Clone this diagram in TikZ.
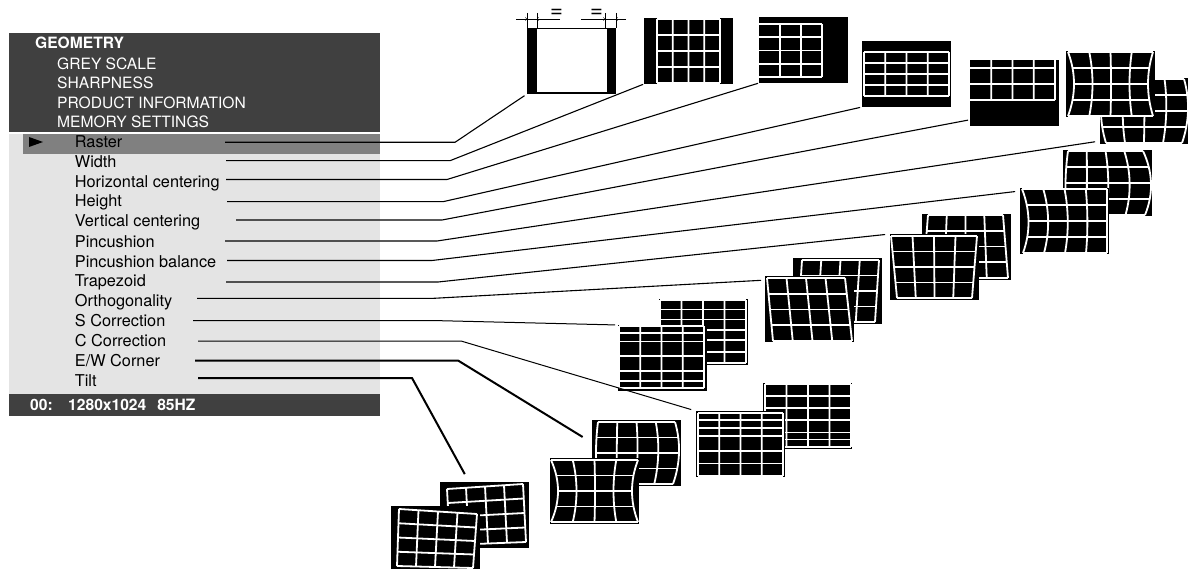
\documentclass[tikz,border=0pt]{standalone}
\usepackage{fontspec}
\setmainfont{TeX Gyre Heros}
\usetikzlibrary{calc}
\definecolor{paneldark}{HTML}{404040}
\definecolor{panellight}{HTML}{E4E4E4}
\definecolor{panelmark}{HTML}{808080}
\tikzset{
    screen/.style={fill=black, inner sep=0, outer sep=0, anchor=north west, minimum width=89, minimum height=66},
    gridline/.style={white, line width=1.8},
    menuitem/.style={anchor=base west, inner sep=0, font=\fontsize{16.3}{18}\selectfont},
    menuhead/.style={anchor=base west, inner sep=0, white, font=\fontsize{15.6}{18}\selectfont},
    equalmark/.style={inner sep=0, font=\fontsize{22}{22}\selectfont},
    link/.style={black, line join=miter}
}
\def\fourths{0,.25,.5,.75,1}
% screen, four corners of the raster, left and right bow, rows, columns
\newcommand{\warpgrid}[9]{
    \begin{scope}[shift={(#1.north west)}]
        \coordinate (TL) at (#2);
        \coordinate (TR) at (#3);
        \coordinate (BR) at (#4);
        \coordinate (BL) at (#5);
        \foreach \rv in #8 {
            \pgfmathsetmacro{\lbow}{#6*4*\rv*(1-\rv)}
            \pgfmathsetmacro{\rbow}{#7*4*\rv*(1-\rv)}
            \draw[gridline] ($(TL)!\rv!(BL)+(\lbow,0)$) -- ($(TR)!\rv!(BR)+(\rbow,0)$);
        }
        \foreach \cu in #9 {
            \pgfmathsetmacro{\cbow}{4/3*((1-\cu)*#6+\cu*#7)}
            \coordinate (A) at ($(TL)!\cu!(TR)$);
            \coordinate (B) at ($(BL)!\cu!(BR)$);
            \draw[gridline] (A) .. controls ($(A)!.33!(B)+(\cbow,0)$) and ($(A)!.67!(B)+(\cbow,0)$) .. (B);
        }
    \end{scope}
}
\begin{document}
\begin{tikzpicture}[x=1pt, y=-1pt]
    \useasboundingbox (0,0) rectangle (1188,569);

    % Menu panels
    \fill[paneldark] (9,33) rectangle (380,132.5);
    \fill[panellight] (9,134) rectangle (380,394);
    \fill[panelmark] (23,134) rectangle (380,154);
    \fill[paneldark] (9,394) rectangle (380,416);
    \fill[black] (29,137) -- (43,142) -- (29,147) -- cycle;

    % Menu texts
    \node[menuhead] (geometry) at (35,49) {\textbf{GEOMETRY}};
    \foreach \key/\y/\txt in {greyscale/69.5/GREY SCALE, sharpness/88.7/SHARPNESS, product/108.2/PRODUCT INFORMATION, memory/128/MEMORY SETTINGS} {
        \node[menuhead] (\key) at (57,\y) {\txt};
    }
    \foreach \key/\y/\txt in {raster/148/Raster, width/167.5/Width, hcenter/187.3/Horizontal centering, height/207/Height,
        vcenter/226.7/Vertical centering, pincushion/247.3/Pincushion, balance/267.3/Pincushion balance, trapezoid/286.8/Trapezoid,
        orthogonality/306.7/Orthogonality, scorr/326.3/S Correction, ccorr/346.3/C Correction, ewcorner/366.3/{E/W Corner}, tilt/386.3/Tilt} {
        \node[menuitem, black] (\key) at (74.7,\y) {\txt};
    }
    \node[menuhead] (status) at (30,410.5) {\textbf{00:\hspace{15.5pt}1280x1024\hspace{11pt}85HZ}};

    % Raster screen with its dimension marks
    \node[screen] (rasterscr) at (527,28) {};
    \fill[white] (537,29) rectangle (607,92);
    \foreach \xa in {527,537,605,616} {
        \draw[thin] (\xa,13) -- (\xa,28);
    }
    \draw[thin, ->] (516,19) -- (527,19);
    \draw[thin, ->] (560,19) -- (537,19);
    \draw[thin] (527,19) -- (537,19);
    \draw[thin, ->] (581,19) -- (605,19);
    \draw[thin, ->] (626,19) -- (616,19);
    \draw[thin] (605,19) -- (616,19);
    \node[equalmark] (eqleft) at (556.5,13) {=};
    \node[equalmark] (eqright) at (596.5,13) {=};

    % Single screens
    \node[screen] (widthscr) at (644,18) {};
    \warpgrid{widthscr}{13,1}{76,1}{76,65}{13,65}{0}{0}{\fourths}{\fourths}
    \node[screen] (hcenterscr) at (759,17) {};
    \warpgrid{hcenterscr}{0,7}{63,7}{63,60}{0,60}{0}{0}{\fourths}{{.333,.667,1}}
    \node[screen] (heightscr) at (862,41) {};
    \warpgrid{heightscr}{2,11}{87,11}{87,55}{2,55}{0}{0}{\fourths}{\fourths}
    \node[screen] (vcenterscr) at (970,60) {};
    \warpgrid{vcenterscr}{0,0}{85,0}{85,40}{0,40}{0}{0}{{.2,.6,1}}{{.25,.5,.75,1}}

    % Stacked screens, back one first
    \node[screen] (pinback) at (1100,78) {};
    \warpgrid{pinback}{6,1}{84,1}{82,65}{6,65}{-5}{5}{\fourths}{\fourths}
    \node[screen] (pinfront) at (1066,51) {};
    \warpgrid{pinfront}{2,1}{87,1}{87,65}{2,65}{6}{-5}{\fourths}{\fourths}
    \node[screen] (balback) at (1063,150) {};
    \warpgrid{balback}{5,1}{80,1}{82,65}{4,65}{-2}{7}{\fourths}{\fourths}
    \node[screen] (balfront) at (1020,188) {};
    \warpgrid{balfront}{2,1}{87,1}{87,65}{3,65}{6}{0}{\fourths}{\fourths}
    \node[screen] (trapback) at (922,214) {};
    \warpgrid{trapback}{6,1}{81,1}{86,64}{1,64}{0}{0}{\fourths}{\fourths}
    \node[screen] (trapfront) at (890,234) {};
    \warpgrid{trapfront}{1,2}{87,2}{82,64}{7,64}{0}{0}{\fourths}{\fourths}
    \node[screen] (orthback) at (793,258) {};
    \warpgrid{orthback}{9,2}{86,2}{82,64}{5,64}{0}{0}{\fourths}{\fourths}
    \node[screen] (orthfront) at (765,276) {};
    \warpgrid{orthfront}{2,2}{80,2}{87,65}{8,65}{0}{0}{\fourths}{\fourths}
    \node[screen] (sback) at (659,299) {};
    \warpgrid{sback}{1,1}{87,1}{87,64}{1,64}{0}{0}{{0,.15,.31,.47,.64,.82,1}}{\fourths}
    \node[screen] (sfront) at (618,325) {};
    \warpgrid{sfront}{1,1}{86,1}{86,63}{1,63}{0}{0}{{0,.11,.25,.48,.72,.89,1}}{\fourths}
    \node[screen] (cback) at (763,383) {};
    \warpgrid{cback}{2,1}{88,1}{88,64}{2,64}{0}{0}{{0,.19,.38,.57,.77,.88,1}}{\fourths}
    \node[screen] (cfront) at (696,411) {};
    \warpgrid{cfront}{2,2}{87,2}{87,65}{2,65}{0}{0}{{0,.107,.24,.37,.6,.8,1}}{\fourths}
    \node[screen] (ewback) at (592,420) {};
    \warpgrid{ewback}{6,2}{83,2}{81,64}{6,64}{-2}{5}{\fourths}{\fourths}
    \node[screen] (ewfront) at (550,458) {};
    \warpgrid{ewfront}{1,2}{88,2}{88,64}{1,64}{7}{-6}{\fourths}{\fourths}
    \node[screen] (tiltback) at (440,482) {};
    \warpgrid{tiltback}{7,7}{83,2}{86,60}{10,63}{0}{0}{\fourths}{\fourths}
    \node[screen, minimum height=63] (tiltfront) at (391,506) {};
    \warpgrid{tiltfront}{8,3}{86,8}{82,62}{6,60}{0}{0}{\fourths}{\fourths}

    % Connectors from the menu to the screens
    \foreach \key/\sx/\bx/\y/\target/\gap/\lw in {
        raster/225/455/142.3/rasterscr.south west/3/1.1,
        width/226/450/160.7/widthscr.south west/1/1.1,
        hcenter/226/447/179.5/hcenterscr.south west/1/1.1,
        height/227/443/201.7/heightscr.south west/2/1.1,
        vcenter/236/442/220/vcenterscr.211/2/1.1,
        pincushion/225/437/241/pinback.214/5/1.1,
        balance/227/432/260.5/balfront.146/5/1.1,
        trapezoid/226/438/282/trapfront.north west/5/1.1,
        orthogonality/197/434/298.3/orthfront.147/4/1.1,
        scorr/193/432/320.5/sfront.north west/3/1,
        ccorr/198/461/341/cfront.north west/5/1,
        ewcorner/195/458/360.5/ewback.167/11/2,
        tilt/198/412/378/tiltback.115/9/2} {
        \coordinate (\key start) at (\sx,\y);
        \coordinate (\key bend) at (\bx,\y);
        \draw[link, line width=\lw, shorten >=\gap] (\key start) -- (\key bend) -- (\target);
    }
\end{tikzpicture}
\end{document}
